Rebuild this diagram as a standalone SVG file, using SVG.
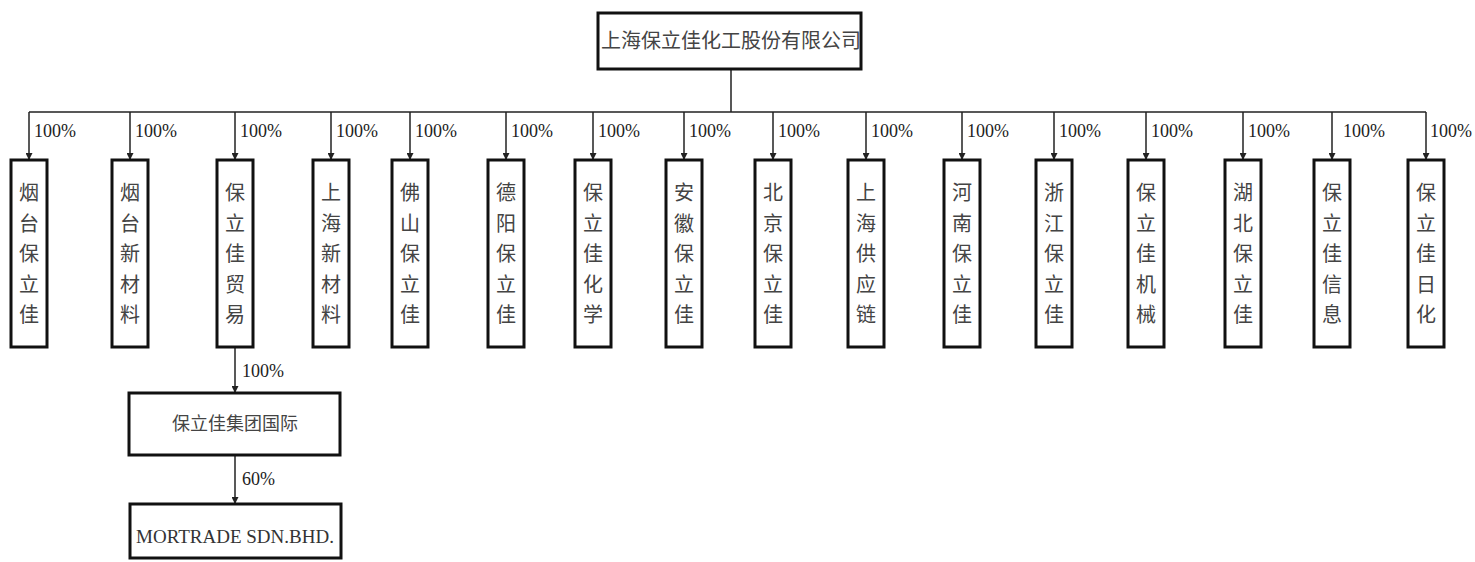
<svg xmlns="http://www.w3.org/2000/svg" width="1475" height="562" viewBox="0 0 1475 562">
<defs>
<marker id="ah" viewBox="0 0 10 10" refX="10" refY="5" markerWidth="7" markerHeight="7" markerUnits="userSpaceOnUse" orient="auto">
<path d="M0,0 L10,5 L0,10 z" fill="#222"/>
</marker>
<style>
.box{fill:#fff;stroke:#111;stroke-width:3}
.ln{fill:none;stroke:#222;stroke-width:1.5}
.ar{fill:none;stroke:#222;stroke-width:1.5;marker-end:url(#ah)}
.cn{font-family:"Noto Sans CJK SC","Noto Sans",sans-serif;font-size:20px;fill:#444;text-anchor:middle}
.pc{font-family:"Liberation Serif","Times New Roman",serif;font-size:18px;fill:#222}
.en{font-family:"Liberation Serif","Times New Roman",serif;font-size:19px;fill:#333;text-anchor:middle}
</style>
</defs>
<rect width="1475" height="562" fill="#fff"/>
<g id="connectors">
<path class="ln" d="M731,69 V112 M29,112 H1426"/>
<path class="ar" d="M29,112 V160"/>
<path class="ar" d="M130,112 V160"/>
<path class="ar" d="M235,112 V160"/>
<path class="ar" d="M331,112 V160"/>
<path class="ar" d="M410,112 V160"/>
<path class="ar" d="M506,112 V160"/>
<path class="ar" d="M593,112 V160"/>
<path class="ar" d="M684,112 V160"/>
<path class="ar" d="M773,112 V160"/>
<path class="ar" d="M866,112 V160"/>
<path class="ar" d="M962,112 V160"/>
<path class="ar" d="M1054,112 V160"/>
<path class="ar" d="M1146,112 V160"/>
<path class="ar" d="M1243,112 V160"/>
<path class="ar" d="M1332,112 V160"/>
<path class="ar" d="M1426,112 V160"/>
<path class="ar" d="M235,347 V393"/>
<path class="ar" d="M235,455 V504"/>
<g class="pc">
<text x="34" y="137">100%</text>
<text x="135" y="137">100%</text>
<text x="240" y="137">100%</text>
<text x="336" y="137">100%</text>
<text x="415" y="137">100%</text>
<text x="511" y="137">100%</text>
<text x="598" y="137">100%</text>
<text x="689" y="137">100%</text>
<text x="778" y="137">100%</text>
<text x="871" y="137">100%</text>
<text x="967" y="137">100%</text>
<text x="1059" y="137">100%</text>
<text x="1151" y="137">100%</text>
<text x="1248" y="137">100%</text>
<text x="1343" y="137">100%</text>
<text x="1430" y="137">100%</text>
<text x="242" y="377">100%</text>
<text x="242" y="485">60%</text>
</g>
</g>
<g id="root">
<rect class="box" x="598" y="13" width="263" height="56"/>
<text class="cn" x="731" y="48">上海保立佳化工股份有限公司</text>
</g>
<g id="n1"><rect class="box" x="11" y="160" width="36" height="187"/><text class="cn"><tspan x="29" y="200">烟</tspan><tspan x="29" y="230.5">台</tspan><tspan x="29" y="261">保</tspan><tspan x="29" y="291.5">立</tspan><tspan x="29" y="322">佳</tspan></text></g>
<g id="n2"><rect class="box" x="112" y="160" width="36" height="187"/><text class="cn"><tspan x="130" y="200">烟</tspan><tspan x="130" y="230.5">台</tspan><tspan x="130" y="261">新</tspan><tspan x="130" y="291.5">材</tspan><tspan x="130" y="322">料</tspan></text></g>
<g id="n3"><rect class="box" x="217" y="160" width="36" height="187"/><text class="cn"><tspan x="235" y="200">保</tspan><tspan x="235" y="230.5">立</tspan><tspan x="235" y="261">佳</tspan><tspan x="235" y="291.5">贸</tspan><tspan x="235" y="322">易</tspan></text></g>
<g id="n4"><rect class="box" x="313" y="160" width="36" height="187"/><text class="cn"><tspan x="331" y="200">上</tspan><tspan x="331" y="230.5">海</tspan><tspan x="331" y="261">新</tspan><tspan x="331" y="291.5">材</tspan><tspan x="331" y="322">料</tspan></text></g>
<g id="n5"><rect class="box" x="392" y="160" width="36" height="187"/><text class="cn"><tspan x="410" y="200">佛</tspan><tspan x="410" y="230.5">山</tspan><tspan x="410" y="261">保</tspan><tspan x="410" y="291.5">立</tspan><tspan x="410" y="322">佳</tspan></text></g>
<g id="n6"><rect class="box" x="488" y="160" width="36" height="187"/><text class="cn"><tspan x="506" y="200">德</tspan><tspan x="506" y="230.5">阳</tspan><tspan x="506" y="261">保</tspan><tspan x="506" y="291.5">立</tspan><tspan x="506" y="322">佳</tspan></text></g>
<g id="n7"><rect class="box" x="575" y="160" width="36" height="187"/><text class="cn"><tspan x="593" y="200">保</tspan><tspan x="593" y="230.5">立</tspan><tspan x="593" y="261">佳</tspan><tspan x="593" y="291.5">化</tspan><tspan x="593" y="322">学</tspan></text></g>
<g id="n8"><rect class="box" x="666" y="160" width="36" height="187"/><text class="cn"><tspan x="684" y="200">安</tspan><tspan x="684" y="230.5">徽</tspan><tspan x="684" y="261">保</tspan><tspan x="684" y="291.5">立</tspan><tspan x="684" y="322">佳</tspan></text></g>
<g id="n9"><rect class="box" x="755" y="160" width="36" height="187"/><text class="cn"><tspan x="773" y="200">北</tspan><tspan x="773" y="230.5">京</tspan><tspan x="773" y="261">保</tspan><tspan x="773" y="291.5">立</tspan><tspan x="773" y="322">佳</tspan></text></g>
<g id="n10"><rect class="box" x="848" y="160" width="36" height="187"/><text class="cn"><tspan x="866" y="200">上</tspan><tspan x="866" y="230.5">海</tspan><tspan x="866" y="261">供</tspan><tspan x="866" y="291.5">应</tspan><tspan x="866" y="322">链</tspan></text></g>
<g id="n11"><rect class="box" x="944" y="160" width="36" height="187"/><text class="cn"><tspan x="962" y="200">河</tspan><tspan x="962" y="230.5">南</tspan><tspan x="962" y="261">保</tspan><tspan x="962" y="291.5">立</tspan><tspan x="962" y="322">佳</tspan></text></g>
<g id="n12"><rect class="box" x="1036" y="160" width="36" height="187"/><text class="cn"><tspan x="1054" y="200">浙</tspan><tspan x="1054" y="230.5">江</tspan><tspan x="1054" y="261">保</tspan><tspan x="1054" y="291.5">立</tspan><tspan x="1054" y="322">佳</tspan></text></g>
<g id="n13"><rect class="box" x="1128" y="160" width="36" height="187"/><text class="cn"><tspan x="1146" y="200">保</tspan><tspan x="1146" y="230.5">立</tspan><tspan x="1146" y="261">佳</tspan><tspan x="1146" y="291.5">机</tspan><tspan x="1146" y="322">械</tspan></text></g>
<g id="n14"><rect class="box" x="1225" y="160" width="36" height="187"/><text class="cn"><tspan x="1243" y="200">湖</tspan><tspan x="1243" y="230.5">北</tspan><tspan x="1243" y="261">保</tspan><tspan x="1243" y="291.5">立</tspan><tspan x="1243" y="322">佳</tspan></text></g>
<g id="n15"><rect class="box" x="1314" y="160" width="36" height="187"/><text class="cn"><tspan x="1332" y="200">保</tspan><tspan x="1332" y="230.5">立</tspan><tspan x="1332" y="261">佳</tspan><tspan x="1332" y="291.5">信</tspan><tspan x="1332" y="322">息</tspan></text></g>
<g id="n16"><rect class="box" x="1408" y="160" width="36" height="187"/><text class="cn"><tspan x="1426" y="200">保</tspan><tspan x="1426" y="230.5">立</tspan><tspan x="1426" y="261">佳</tspan><tspan x="1426" y="291.5">日</tspan><tspan x="1426" y="322">化</tspan></text></g>
<g id="intl"><rect class="box" x="129" y="393" width="211" height="62"/><text class="cn" style="font-size:18px" x="235" y="430">保立佳集团国际</text></g>
<g id="mortrade"><rect class="box" x="130" y="504" width="211" height="54"/><text class="en" x="235" y="543">MORTRADE SDN.BHD.</text></g>
</svg>
